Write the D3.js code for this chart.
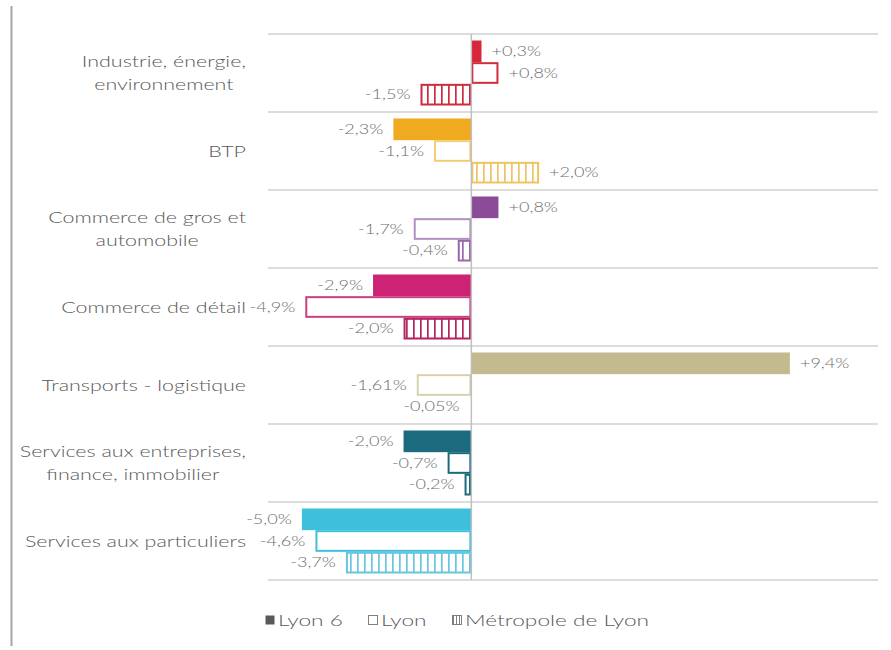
<!DOCTYPE html>
<html>
<head>
<meta charset="utf-8">
<script src="https://cdn.jsdelivr.net/npm/d3@7"></script>
<style>
  html, body { margin: 0; padding: 0; background: #fff; }
  svg { display: block; font-family: Lato, "Open Sans", sans-serif; font-weight: 300; }
</style>
</head>
<body>
<svg id="chart" width="891" height="650"></svg>
<script>
// Sectors (wrapped lines for the axis labels)
const categories = [
  "Industrie, énergie, environnement",
  "BTP",
  "Commerce de gros et automobile",
  "Commerce de détail",
  "Transports - logistique",
  "Services aux entreprises, finance, immobilier",
  "Services aux particuliers"
];
const categoryLines = [
  ["Industrie, énergie,", "environnement"],
  ["BTP"],
  ["Commerce de gros et", "automobile"],
  ["Commerce de détail"],
  ["Transports - logistique"],
  ["Services aux entreprises,", "finance, immobilier"],
  ["Services aux particuliers"]
];
const seriesNames = ["Lyon 6", "Lyon", "Métropole de Lyon"];

// Employment change by sector (%)
const lyon6Values     = [0.3, -2.3,  0.8, -2.9,  9.4,  -2.0, -5.0];
const lyonValues      = [0.8, -1.1, -1.7, -4.9, -1.61, -0.7, -4.6];
const metropoleValues = [-1.5, 2.0, -0.4, -2.0, -0.05, -0.2, -3.7];

// Sector colours: solid fill, outline, hatch
const fillColors    = ["#d8273a", "#f0aa1f", "#8b4b97", "#cc2375", "#c3ba90", "#1b6a7e", "#3ec0dd"];
const outlineColors = ["#d02c3c", "#f1cd78", "#b38fc0", "#c9407f", "#d8d1ad", "#1b6a7e", "#3ec0dd"];
const hatchColors   = ["#cf2b3e", "#eec463", "#9a68aa", "#b42560", "#c3ba90", "#1b6a7e", "#68c6df"];

const xDomain = [-6, 12];

const svg = d3.select("#chart");
const textColor = "#595959";
const stretch = 1.34;   // horizontal widening of all text

const x = d3.scaleLinear().domain(xDomain).range([268, 878]);
const y = d3.scaleBand().domain(d3.range(categories.length)).range([34, 580]).padding(0);
const yInner = d3.scaleBand().domain(seriesNames).range([6.5, y.bandwidth() - 6.5]).padding(0);

const rows = categories.map((c, i) => ({
  i, name: c,
  values: [lyon6Values[i], lyonValues[i], metropoleValues[i]]
}));

// Text placed at (ax, ay) and widened horizontally around its anchor
function wideText(parent, ax, ay, str, anchor, sx) {
  return parent.append("text")
    .attr("transform", `translate(${ax},${ay}) scale(${sx},1)`)
    .attr("text-anchor", anchor)
    .attr("dy", "0.35em")
    .text(str);
}

// Vertical-stripe hatch patterns, one per sector
const defs = svg.append("defs");
hatchColors.forEach((col, i) => {
  const p = defs.append("pattern")
    .attr("id", "hatch" + i)
    .attr("patternUnits", "userSpaceOnUse")
    .attr("width", 7).attr("height", 10);
  p.append("rect").attr("width", 7).attr("height", 10).attr("fill", "#fff");
  p.append("rect").attr("x", 0).attr("width", 1.7).attr("height", 10).attr("fill", col);
});
const legendHatch = defs.append("pattern")
  .attr("id", "hatchLegend").attr("patternUnits", "userSpaceOnUse")
  .attr("width", 3).attr("height", 10);
legendHatch.append("rect").attr("width", 3).attr("height", 10).attr("fill", "#fff");
legendHatch.append("rect").attr("width", 1).attr("height", 10).attr("fill", "#7f7f7f");

// Frame line on the left
svg.append("line")
  .attr("x1", 11.5).attr("x2", 11.5).attr("y1", 6).attr("y2", 646)
  .attr("stroke", "#a6a6a6").attr("stroke-width", 2);

// Horizontal gridlines between sectors
const gridY = d3.range(categories.length + 1).map(k => k === categories.length ? y.range()[1] : y(k));
svg.append("g").selectAll("line").data(gridY).join("line")
  .attr("x1", x.range()[0]).attr("x2", x.range()[1])
  .attr("y1", d => d).attr("y2", d => d)
  .attr("stroke", "#dcdcdc").attr("stroke-width", 2);

// Bars
const fmt = v => {
  const a = Math.abs(v);
  const dec = Math.abs(a * 10 - Math.round(a * 10)) < 1e-9 ? 1 : 2;
  return (v > 0 ? "+" : "-") + a.toFixed(dec).replace(".", ",") + "%";
};

const barLayer = svg.append("g");
const valueLayer = svg.append("g").attr("font-size", 13.5).attr("fill", "#6e6e6e");

rows.forEach(row => {
  const g = barLayer.append("g").attr("transform", `translate(0,${y(row.i)})`);
  row.values.forEach((v, s) => {
    const x0 = x(Math.min(0, v)), x1 = x(Math.max(0, v));
    const yy = yInner(seriesNames[s]), h = yInner.bandwidth();
    if (s === 0) {
      g.append("rect").attr("x", x0).attr("y", yy).attr("width", x1 - x0).attr("height", h)
        .attr("fill", fillColors[row.i]);
    } else {
      g.append("rect").attr("x", x0 + 1).attr("y", yy + 1)
        .attr("width", Math.max(0, x1 - x0 - 2)).attr("height", h - 2)
        .attr("fill", s === 1 ? "#fff" : `url(#hatch${row.i})`)
        .attr("stroke", s === 1 ? outlineColors[row.i] : hatchColors[row.i])
        .attr("stroke-width", 2);
    }
    const gap = 10;
    wideText(valueLayer,
      v >= 0 ? x1 + gap : x0 - gap,
      y(row.i) + yy + h / 2,
      fmt(v), v >= 0 ? "start" : "end", stretch);
  });
});

// Zero axis
svg.append("line")
  .attr("x1", x(0)).attr("x2", x(0)).attr("y1", y.range()[0]).attr("y2", y.range()[1])
  .attr("stroke", "#bfbfbf").attr("stroke-width", 1.5);

// Category labels: block right-aligned, lines centred within the block
const labelRight = 246, lineH = 23;
const labels = svg.append("g").attr("font-size", 16).attr("fill", textColor);
rows.forEach(row => {
  const lines = categoryLines[row.i];
  const cy = y(row.i) + y.bandwidth() / 2;
  const texts = lines.map((ln, k) =>
    wideText(labels, 0, cy + (k - (lines.length - 1) / 2) * lineH, ln, "middle", stretch));
  const w = d3.max(texts, t => t.node().getComputedTextLength()) * stretch;
  texts.forEach((t, k) => t.attr("transform",
    `translate(${labelRight - w / 2},${cy + (k - (lines.length - 1) / 2) * lineH}) scale(${stretch},1)`));
});

// Legend
const legend = svg.append("g").attr("font-size", 16).attr("fill", textColor);
const legendItems = [
  { name: seriesNames[0], x: 265, fill: "#595959", stroke: "none" },
  { name: seriesNames[1], x: 368, fill: "#fff", stroke: "#7f7f7f" },
  { name: seriesNames[2], x: 452, fill: "url(#hatchLegend)", stroke: "#7f7f7f" }
];
legendItems.forEach(it => {
  legend.append("rect").attr("x", it.x + 0.5).attr("y", 615.5).attr("width", 9).attr("height", 9)
    .attr("fill", it.fill).attr("stroke", it.stroke);
  wideText(legend, it.x + 13, 620, it.name, "start", 1.42);
});
</script>
</body>
</html>
